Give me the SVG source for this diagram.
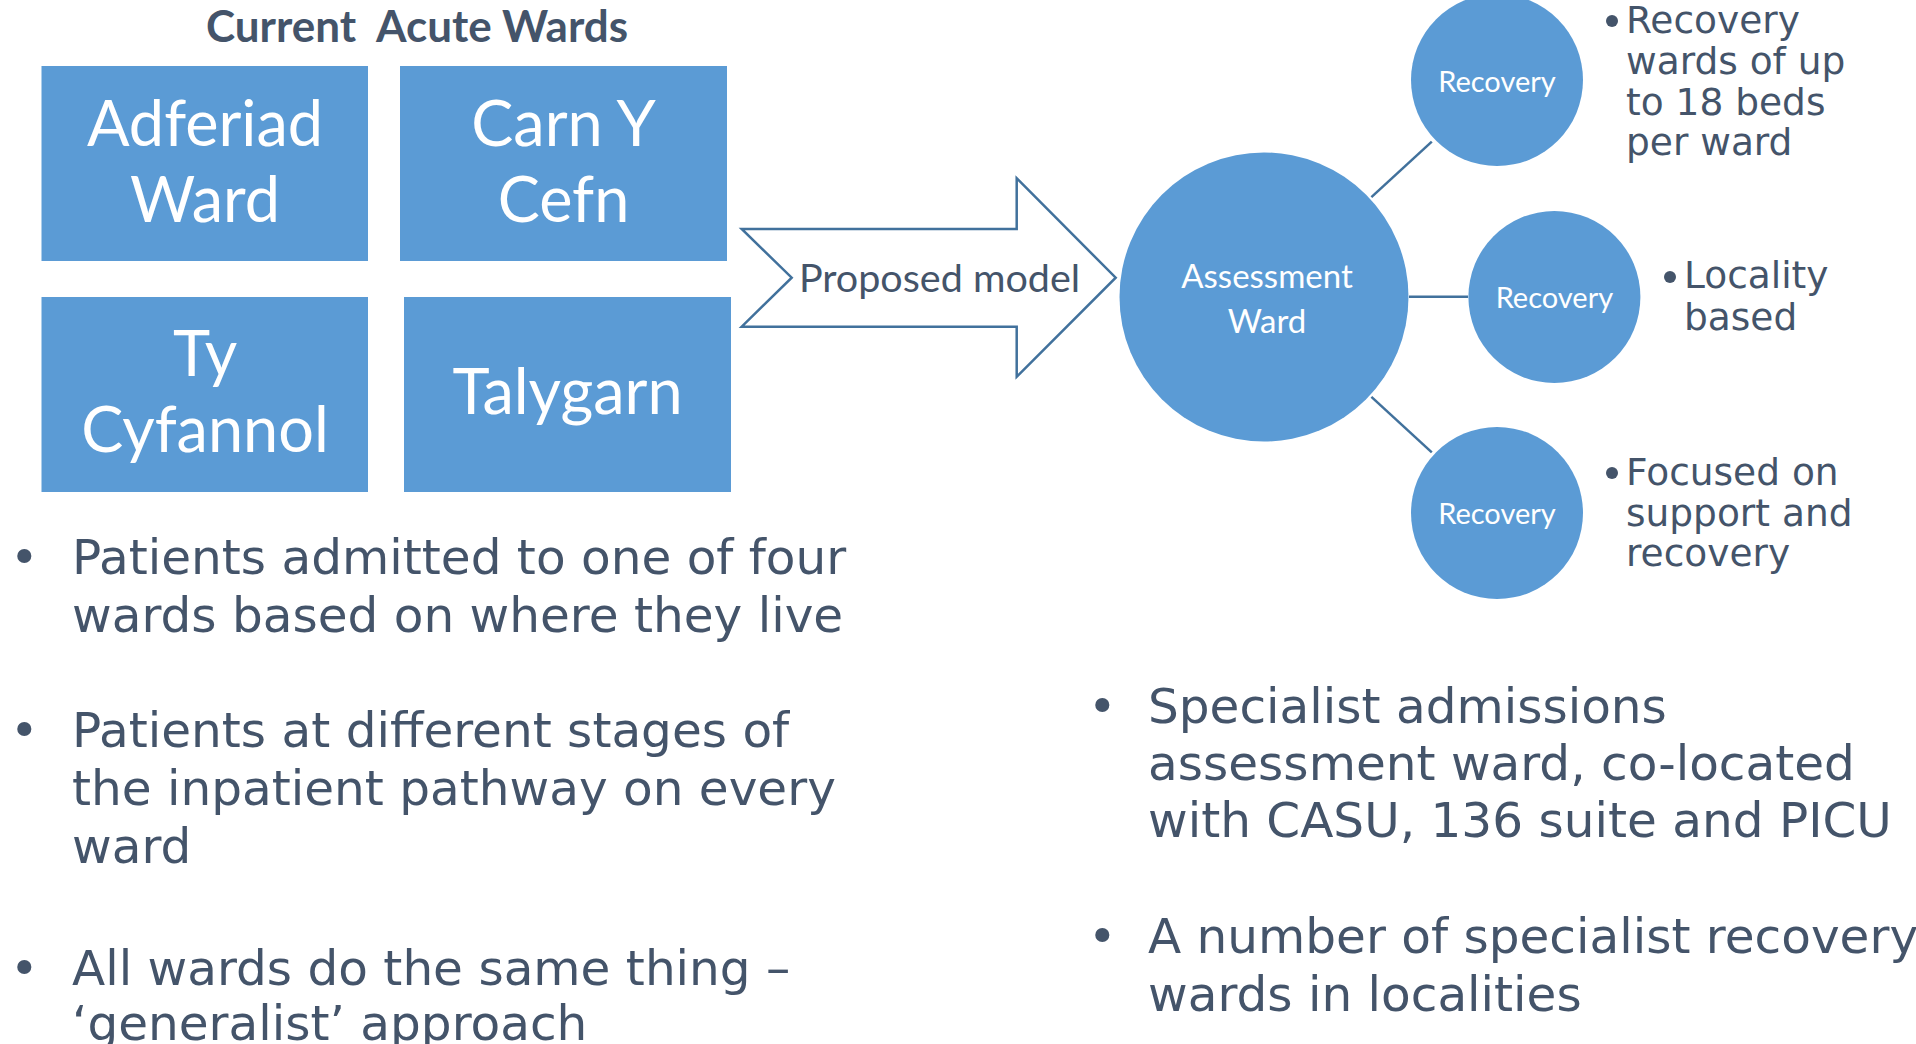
<svg xmlns="http://www.w3.org/2000/svg" width="1916" height="1044" viewBox="0 0 1916 1044">
<style>
.box{fill:#5B9BD5}
.bt{font-family:Lato,"Open Sans",sans-serif;fill:#fff;font-size:63px;text-anchor:middle}
.ct{font-family:Lato,"Open Sans",sans-serif;fill:#fff;text-anchor:middle}
.circ{fill:#5B9BD5}
.con{stroke:#41719C;stroke-width:2.5;fill:none}
.tx{font-family:"DejaVu Sans",Verdana,sans-serif;fill:#44546A}
.title{font-family:Lato,"Open Sans",sans-serif;font-weight:bold;fill:#44546A;font-size:44px;text-anchor:middle}
</style>
<rect width="1916" height="1044" fill="#fff"/>
<text class="title" x="417" y="42" xml:space="preserve">Current  Acute Wards</text>

<g id="adferiad">
<rect class="box" x="41.5" y="66" width="326.5" height="195"/>
<text class="bt" x="205" y="146">Adferiad</text>
<text class="bt" x="205" y="222">Ward</text>
</g>
<g id="carn-y-cefn">
<rect class="box" x="400" y="66" width="327" height="195"/>
<text class="bt" x="563.5" y="146">Carn Y</text>
<text class="bt" x="563.5" y="222">Cefn</text>
</g>
<g id="ty-cyfannol">
<rect class="box" x="41.5" y="297" width="326.5" height="195"/>
<text class="bt" x="205" y="376">Ty</text>
<text class="bt" x="205" y="452">Cyfannol</text>
</g>
<g id="talygarn">
<rect class="box" x="404" y="297" width="327" height="195"/>
<text class="bt" x="567.5" y="414">Talygarn</text>
</g>

<g id="proposed-model">
<polygon points="741.7,229 1016.7,229 1016.7,178.3 1115.7,277.7 1016.7,376.7 1016.7,326.7 741.7,326.7 791.7,277.7" fill="#fff" stroke="#41719C" stroke-width="2.5"/>
<text x="939.5" y="292" font-family="Lato,'Open Sans',sans-serif" font-size="39.5" fill="#44546A" text-anchor="middle">Proposed model</text>
</g>

<g id="connectors">
<line class="con" x1="1371.4" y1="197.2" x2="1431.8" y2="141.7"/>
<line class="con" x1="1409" y1="296.8" x2="1468" y2="296.8"/>
<line class="con" x1="1371.4" y1="396.8" x2="1431.8" y2="452.4"/>
</g>

<g id="assessment-ward">
<circle class="circ" cx="1264" cy="297" r="144.5"/>
<text class="ct" x="1267" y="288" font-size="33">Assessment</text>
<text class="ct" x="1267" y="332.5" font-size="33">Ward</text>
</g>
<g id="recovery-top">
<circle class="circ" cx="1497" cy="80" r="86"/>
<text class="ct" x="1497" y="92" font-size="29">Recovery</text>
</g>
<g id="recovery-middle">
<circle class="circ" cx="1554.4" cy="297" r="86"/>
<text class="ct" x="1554.4" y="307.5" font-size="29">Recovery</text>
</g>
<g id="recovery-bottom">
<circle class="circ" cx="1497" cy="513" r="86"/>
<text class="ct" x="1497" y="524" font-size="29">Recovery</text>
</g>

<g id="notes-right-top" class="tx" font-size="37.5">
<circle cx="1612" cy="21" r="6" fill="#44546A"/>
<text x="1626" y="33">Recovery</text>
<text x="1626" y="74">wards of up</text>
<text x="1626" y="114.5">to 18 beds</text>
<text x="1626" y="155">per ward</text>
</g>
<g id="notes-right-middle" class="tx" font-size="37.5">
<circle cx="1670" cy="277" r="6" fill="#44546A"/>
<text x="1684" y="288">Locality</text>
<text x="1684" y="330">based</text>
</g>
<g id="notes-right-bottom" class="tx" font-size="37.5">
<circle cx="1612" cy="473" r="6" fill="#44546A"/>
<text x="1626" y="485">Focused on</text>
<text x="1626" y="525.5">support and</text>
<text x="1626" y="565.5">recovery</text>
</g>

<g id="notes-left" class="tx" font-size="48.5">
<text x="10" y="574">•</text>
<text x="72" y="574">Patients admitted to one of four</text>
<text x="72" y="632">wards based on where they live</text>
<text x="10" y="746.5">•</text>
<text x="72" y="746.5">Patients at different stages of</text>
<text x="72" y="805">the inpatient pathway on every</text>
<text x="72" y="863">ward</text>
<text x="10" y="984.5">•</text>
<text x="72" y="984.5">All wards do the same thing –</text>
<text x="72" y="1040">‘generalist’ approach</text>
</g>

<g id="notes-right-bottom-list" class="tx" font-size="48.5">
<text x="1088" y="722.5">•</text>
<text x="1148" y="722.5">Specialist admissions</text>
<text x="1148" y="780">assessment ward, co-located</text>
<text x="1148" y="837">with CASU, 136 suite and PICU</text>
<text x="1088" y="953">•</text>
<text x="1148" y="953">A number of specialist recovery</text>
<text x="1148" y="1010.5">wards in localities</text>
</g>
</svg>
